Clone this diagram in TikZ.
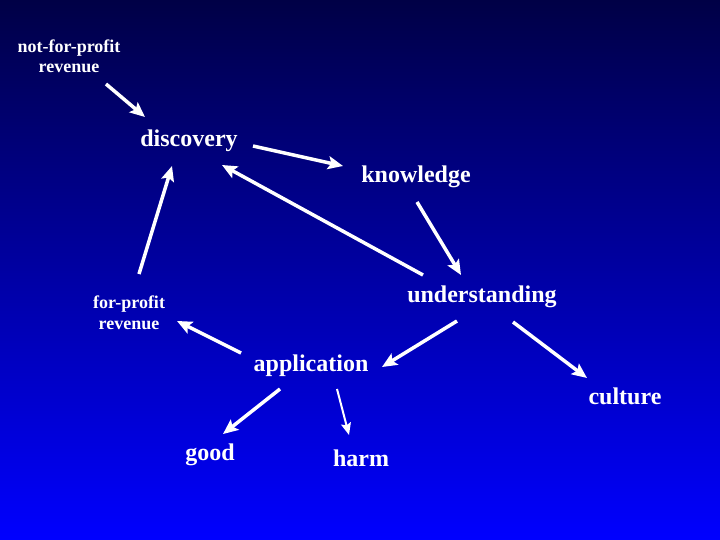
\documentclass[tikz,border=0pt]{standalone}
\usepackage{fontspec}
\setmainfont{Liberation Serif}
\usetikzlibrary{arrows.meta}
\definecolor{bgtop}{HTML}{000046}
\definecolor{bgbot}{HTML}{0000FF}
\begin{document}
\begin{tikzpicture}[x=1pt,y=-1pt,
  lbl/.style={text=white,font=\bfseries\fontsize{24}{28}\selectfont,anchor=base,inner sep=0pt},
  slbl/.style={text=white,font=\bfseries\fontsize{18}{21}\selectfont,anchor=base,inner sep=0pt},
  arr/.style={draw=white,line width=3.5pt,-{Stealth[length=15pt,width=13pt,inset=3pt]}},
  thinarr/.style={draw=white,line width=2pt,-{Stealth[length=12pt,width=10pt,inset=2pt]}}]
\shade[top color=bgtop,bottom color=bgbot] (0,0) rectangle (720,540);
\useasboundingbox (0,0) rectangle (720,540);
% labels
\node[slbl] (nfp) at (69,53) {not-for-profit};
\node[slbl] (nfprev) at (69,73) {revenue};
\node[lbl] (disc) at (189,147) {discovery};
\node[lbl] (know) at (416,183) {knowledge};
\node[lbl] (und) at (482,302) {understanding};
\node[slbl] (fp) at (129,308) {for-profit};
\node[slbl] (fprev) at (129,329) {revenue};
\node[lbl] (app) at (311,371) {application};
\node[lbl] (cult) at (625,404) {culture};
\node[lbl] (good) at (210,460) {good};
\node[lbl] (harm) at (361,466) {harm};
% arrow end points
\coordinate (a1s) at (106,84);  \coordinate (a1e) at (145,117);
\coordinate (a2s) at (253,146); \coordinate (a2e) at (343,166);
\coordinate (a3s) at (423,275); \coordinate (a3e) at (222,165);
\coordinate (a4s) at (417,202); \coordinate (a4e) at (461,275);
\coordinate (a5s) at (139,274); \coordinate (a5e) at (172,166);
\coordinate (a6s) at (241,353); \coordinate (a6e) at (177,321);
\coordinate (a7s) at (457,321); \coordinate (a7e) at (382,367);
\coordinate (a8s) at (513,322); \coordinate (a8e) at (587,378);
\coordinate (a9s) at (280,389); \coordinate (a9e) at (223,434);
\coordinate (a10s) at (337,389); \coordinate (a10e) at (349,435);
% connectors
\draw[arr] (a1s) -- (a1e);
\draw[arr] (a2s) -- (a2e);
\draw[arr] (a3s) -- (a3e);
\draw[arr] (a4s) -- (a4e);
\draw[arr] (a5s) -- (a5e);
\draw[arr] (a6s) -- (a6e);
\draw[arr] (a7s) -- (a7e);
\draw[arr] (a8s) -- (a8e);
\draw[arr] (a9s) -- (a9e);
\draw[thinarr] (a10s) -- (a10e);
\end{tikzpicture}
\end{document}
